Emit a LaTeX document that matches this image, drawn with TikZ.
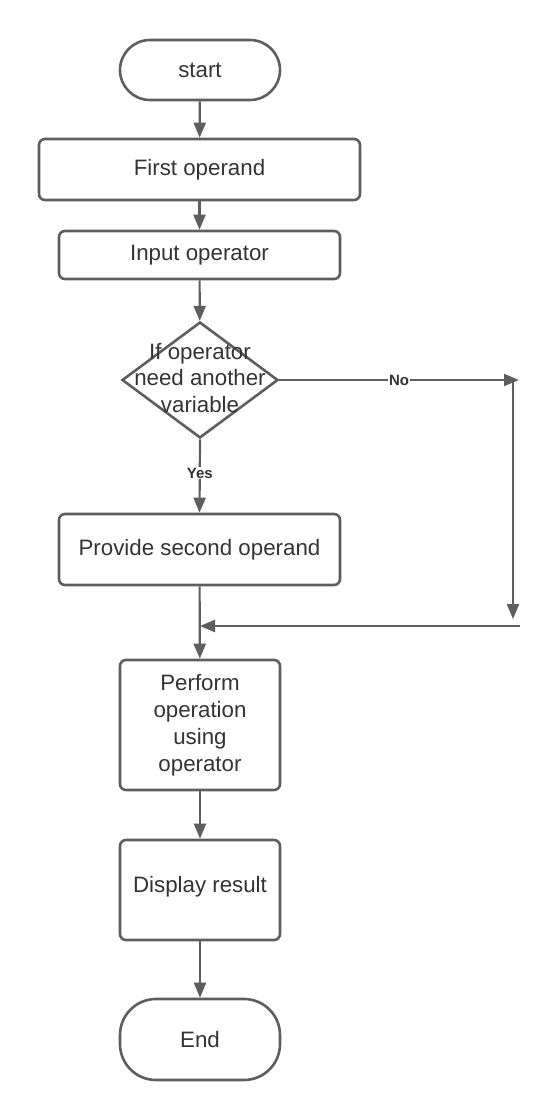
\documentclass[tikz,border=0pt]{standalone}
\usepackage{fontspec}
\setmainfont{Liberation Sans}
\usetikzlibrary{arrows.meta,shapes.geometric}
\definecolor{ln}{HTML}{5E5E5E}
\definecolor{tx}{HTML}{333333}
\tikzset{
  box/.style={draw=ln,line width=2.6pt,rounded corners=6pt,inner sep=0pt,
    text=tx,font=\fontsize{22.3}{27}\selectfont,align=center},
  term/.style={box,rounded corners=30pt},
  conn/.style={draw=ln,line width=2.2pt,-{Triangle[length=15pt,width=12pt]}},
  plain/.style={draw=ln,line width=2.2pt},
  lbl/.style={text=tx,font=\fontsize{15}{15}\selectfont\bfseries,inner sep=1pt,fill=white}
}
\begin{document}
\begin{tikzpicture}[x=1pt,y=-1pt]
\useasboundingbox (0,0) rectangle (560,1120);
\node[term,minimum width=160pt,minimum height=60pt] (start) at (200,70) {start};
\node[box,minimum width=321pt,minimum height=61pt] (first) at (199.5,169.5) {First operand};
\node[box,minimum width=281pt,minimum height=48pt] (input) at (199.5,255) {Input operator};
\node[draw=ln,line width=2.6pt,diamond,aspect=1.34,minimum width=156pt,minimum height=116pt,inner sep=0pt] (dec) at (200,380) {};
\node[text=tx,font=\fontsize{22.3}{26.5}\selectfont,align=center] (dectext) at (200,378) {If operator\\need another\\variable};
\node[box,minimum width=281pt,minimum height=71pt] (second) at (199.5,549.5) {Provide second operand};
\node[box,minimum width=160pt,minimum height=130pt] (perf) at (200,725) {Perform\\operation\\using\\operator};
\node[box,minimum width=160pt,minimum height=100pt] (disp) at (200,890) {};
\node[text=tx,font=\fontsize{22.3}{27}\selectfont] (disptext) at (200,887) {Display result};
\node[term,minimum width=160pt,minimum height=81pt,rounded corners=36pt] (end) at (200,1039.5) {End};
\coordinate (noend) at (519,380);
\coordinate (vtop) at (513,380);
\coordinate (vbot) at (513,619);
\coordinate (hstart) at (520,626);
\coordinate (join) at (200,626);
\draw[conn] (start) -- (first);
\draw[conn] (first) -- (input);
\draw[conn] (input) -- (dec);
\draw[conn] (dec.east) -- node[lbl,pos=0.5] (no) {No} (noend);
\draw[conn] (vtop) -- (vbot);
\draw[conn] (hstart) -- (join);
\draw[conn] (dec.south) -- node[lbl,pos=0.46] (yes) {Yes} (second.north);
\draw[conn] (second) -- (perf);
\draw[conn] (perf) -- (disp);
\draw[conn] (disp) -- (end);
\end{tikzpicture}
\end{document}
